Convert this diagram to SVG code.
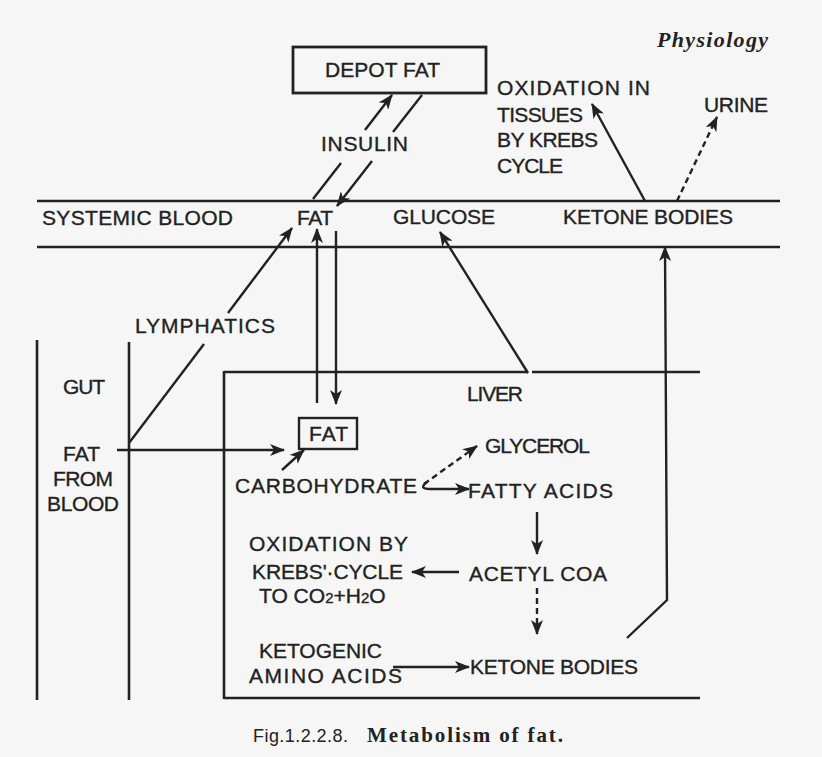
<svg xmlns="http://www.w3.org/2000/svg" width="822" height="757" viewBox="0 0 822 757">
<defs>
<marker id="ah" markerUnits="userSpaceOnUse" markerWidth="16" markerHeight="12" refX="14" refY="6" orient="auto">
<path d="M0,0 L15,6 L0,12 L4,6 z" fill="#222"/>
</marker>
<style>
.t{font-family:"Liberation Sans",Arial,sans-serif;font-size:21px;fill:#222;stroke:#222;stroke-width:0.35}
.ln{stroke:#222;stroke-width:2.6;fill:none}
.c{stroke:#222;stroke-width:2.4;fill:none}
.ca{stroke:#222;stroke-width:2.4;fill:none;marker-end:url(#ah)}
.d{stroke-dasharray:6,4}
</style>
</defs>
<rect width="822" height="757" fill="#f6f6f6"/>

<g id="header">
<text x="657" y="47" style="font-family:'Liberation Serif',serif;font-style:italic;font-weight:bold;font-size:22px;fill:#222" textLength="111">Physiology</text>
</g>

<g id="systemic-blood">
<line class="ln" x1="37" y1="201" x2="780" y2="201"/>
<line class="ln" x1="37" y1="247" x2="780" y2="247"/>
<text class="t" x="42" y="225" textLength="191">SYSTEMIC BLOOD</text>
</g>
<g id="blood-fat"><text class="t" x="297" y="225" textLength="36">FAT</text></g>
<g id="blood-glucose"><text class="t" x="393" y="224" textLength="102">GLUCOSE</text></g>
<g id="blood-ketone"><text class="t" x="563" y="224" textLength="170">KETONE BODIES</text></g>

<g id="depot-fat">
<rect x="293" y="47" width="193" height="46" fill="none" stroke="#222" stroke-width="2.8"/>
<text class="t" x="325" y="77" textLength="115">DEPOT FAT</text>
</g>
<g id="insulin"><text class="t" x="321" y="151" textLength="87">INSULIN</text></g>

<g id="oxidation-tissues">
<text class="t" x="497" y="95" textLength="153">OXIDATION IN</text>
<text class="t" x="497" y="122" textLength="86">TISSUES</text>
<text class="t" x="497" y="147" textLength="101">BY KREBS</text>
<text class="t" x="497" y="173" textLength="66">CYCLE</text>
</g>
<g id="urine"><text class="t" x="704" y="112" textLength="64">URINE</text></g>

<g id="lymphatics"><text class="t" x="135" y="333" textLength="140">LYMPHATICS</text></g>

<g id="gut">
<line class="ln" x1="37" y1="340" x2="37" y2="700"/>
<line class="ln" x1="129" y1="342" x2="129" y2="700"/>
<text class="t" x="63" y="394" textLength="42">GUT</text>
</g>
<g id="fat-from-blood">
<text class="t" x="63" y="461" textLength="37">FAT</text>
<text class="t" x="53" y="486" textLength="60">FROM</text>
<text class="t" x="47" y="511" textLength="72">BLOOD</text>
</g>

<g id="liver">
<line class="ln" x1="224" y1="372" x2="528" y2="372"/>
<line class="ln" x1="532" y1="372" x2="700" y2="372"/>
<line class="ln" x1="224" y1="371" x2="224" y2="699"/>
<line class="ln" x1="224" y1="698" x2="700" y2="698"/>
<text class="t" x="467" y="401" textLength="56">LIVER</text>
</g>
<g id="liver-fat">
<rect x="299" y="418" width="58" height="31" fill="none" stroke="#222" stroke-width="2.4"/>
<text class="t" x="309" y="441" textLength="39">FAT</text>
</g>
<g id="glycerol"><text class="t" x="485" y="453" textLength="105">GLYCEROL</text></g>
<g id="carbohydrate"><text class="t" x="235" y="493" textLength="182">CARBOHYDRATE</text></g>
<g id="fatty-acids"><text class="t" x="468" y="498" textLength="145">FATTY ACIDS</text></g>
<g id="oxidation-krebs">
<text class="t" x="249" y="551" textLength="159">OXIDATION BY</text>
<text class="t" x="252" y="579" textLength="151">KREBS'·CYCLE</text>
<text class="t" x="259" y="603">TO CO<tspan font-size="15">2</tspan>+H<tspan font-size="15">2</tspan>O</text>
</g>
<g id="acetyl-coa"><text class="t" x="469" y="581" textLength="138">ACETYL COA</text></g>
<g id="ketogenic">
<text class="t" x="259" y="658" textLength="123">KETOGENIC</text>
<text class="t" x="249" y="683" textLength="153">AMINO ACIDS</text>
</g>
<g id="liver-ketone"><text class="t" x="470" y="674" textLength="168">KETONE BODIES</text></g>

<g id="connectors">
<line class="c" x1="313" y1="199" x2="341" y2="163"/>
<line class="ca" x1="365" y1="130" x2="392" y2="95"/>
<line class="c" x1="422" y1="95" x2="393" y2="132"/>
<line class="ca" x1="372" y1="161" x2="337" y2="206"/>
<line class="c" x1="129" y1="443" x2="204" y2="344"/>
<line class="ca" x1="228" y1="313" x2="292" y2="228"/>
<line class="ca" x1="117" y1="450" x2="284" y2="450"/>
<line class="ca" x1="317" y1="403" x2="317" y2="229"/>
<line class="ca" x1="336" y1="231" x2="336" y2="404"/>
<line class="ca" x1="282" y1="470" x2="304" y2="450"/>
<path class="ca" d="M427,482 Q418,489 430,489 L469,489"/>
<line class="ca d" x1="424" y1="484" x2="477" y2="446"/>
<line class="ca" x1="537" y1="512" x2="537" y2="554"/>
<line class="ca" x1="459" y1="572" x2="412" y2="572"/>
<line class="ca d" x1="537" y1="588" x2="537" y2="634"/>
<line class="ca" x1="393" y1="667" x2="469" y2="667"/>
<polyline class="ca" points="627,638 667,600 665,247"/>
<line class="ca" x1="528" y1="373" x2="440" y2="232"/>
<line class="ca" x1="645" y1="201" x2="592" y2="104"/>
<line class="ca d" x1="677" y1="201" x2="717" y2="117"/>
</g>

<g id="caption">
<text x="253" y="742" style="font-family:'Liberation Sans',Arial,sans-serif;font-size:18px;fill:#222" textLength="95">Fig.1.2.2.8.</text>
<text x="367" y="742" style="font-family:'Liberation Serif',serif;font-weight:bold;font-size:21px;fill:#222" textLength="196">Metabolism of fat.</text>
</g>
</svg>
